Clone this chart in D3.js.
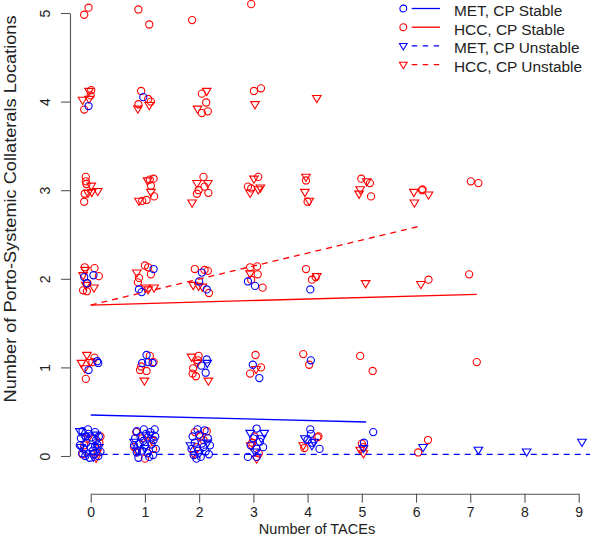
<!DOCTYPE html>
<html><head><meta charset="utf-8">
<script src="https://cdn.jsdelivr.net/npm/d3@7"></script>
<style>body{margin:0;background:#fff}svg{display:block}text{font-family:"Liberation Sans",Arial,sans-serif;fill:#222}</style>
</head><body>
<svg id="c" width="590" height="543"></svg>
<script>
// ---- data (jittered values) ----
const xTicks = [0,1,2,3,4,5,6,7,8,9];
const yTicks = [0,1,2,3,4,5];
const xTitle = "Number of TACEs";
const yTitle = "Number of Porto-Systemic Collaterals Locations";
const legendLabels = ["MET, CP Stable","HCC, CP Stable","MET, CP Unstable","HCC, CP Unstable"];

const hccStable = [
 [-0.12,4.98],[-0.04,5.06],[0.88,5.04],[1.08,4.87],[1.87,4.92],[2.96,5.10],
 [0.01,4.13],[0.0,4.07],[-0.12,3.91],[0.93,4.12],[1.06,4.03],[0.88,3.97],[1.11,4.0],[2.05,4.09],[2.13,3.99],[2.05,3.87],[2.16,3.89],[3.01,4.12],[3.14,4.15],
 [-0.09,3.15],[-0.09,3.10],[-0.08,3.07],[-0.11,2.96],[-0.12,2.87],[1.16,3.13],[1.09,3.12],[1.11,3.05],[1.17,2.93],[1.03,2.89],[0.95,2.88],[2.08,3.15],[2.10,3.04],[1.99,3.0],[1.96,2.96],[2.17,2.97],[3.09,3.15],[2.90,3.04],[2.96,3.02],[3.97,3.11],[4.0,2.87],[4.99,3.13],[5.15,3.08],[5.17,2.93],[6.11,3.0],[6.12,3.01],[7.01,3.10],[7.15,3.08],
 [-0.11,2.13],[0.07,2.12],[0.15,2.03],[-0.06,1.95],[-0.14,1.87],[-0.07,1.86],[1.0,2.15],[1.06,2.13],[1.11,2.05],[0.89,2.01],[0.87,1.96],[1.92,2.11],[2.16,2.09],[2.18,1.84],[2.10,2.10],[2.94,2.13],[3.07,2.14],[3.08,2.05],[2.96,1.99],[3.17,1.90],[3.97,2.11],[4.15,2.02],[4.08,1.99],[6.23,1.99],[6.98,2.05],
 [0.07,1.11],[0.03,1.06],[-0.09,0.87],[1.09,1.13],[1.16,1.06],[0.93,1.01],[0.91,0.97],[1.03,0.96],[1.99,1.13],[1.89,0.99],[1.88,0.93],[1.94,0.90],[1.98,1.08],[3.04,1.14],[3.14,1.0],[2.94,0.93],[3.92,1.15],[4.03,1.03],[4.97,1.13],[5.20,0.96],[7.12,1.06],
 [-0.15,0.02],[0.16,0.15],[0.18,0.22],[-0.12,0.12],[0.84,0.27],[0.80,0.10],[1.0,-0.03],[1.15,0.08],[0.95,0.20],[1.92,0.27],[2.14,0.28],[2.08,0.18],[1.96,0.10],[2.02,0.22],[3.02,0.22],[2.98,0.15],[3.10,0.03],[4.20,0.22],[4.18,0.21],[3.94,0.09],[5.0,0.14],[5.03,0.10],[6.22,0.18],[6.04,0.04]
];
const hccUnstable = [
 [-0.03,4.12],[-0.15,4.02],[-0.03,4.03],[0.87,3.92],[1.08,3.96],[2.14,4.12],[1.97,3.92],[3.03,3.97],[4.17,4.04],
 [0.01,3.05],[0.13,2.99],[0.02,2.98],[-0.05,2.97],[1.05,3.11],[1.11,2.98],[0.89,2.88],[1.96,3.08],[2.16,3.08],[1.87,2.86],[3.01,3.13],[3.13,3.03],[2.94,2.97],[3.09,3.01],[3.97,3.15],[3.95,2.98],[4.03,2.88],[5.09,3.10],[4.97,3.01],[4.95,2.96],[5.96,2.98],[6.23,2.95],[5.97,2.86],
 [-0.1,2.10],[-0.14,2.04],[-0.09,1.93],[0.06,1.90],[0.85,2.07],[1.01,1.90],[1.17,1.90],[1.06,1.88],[1.89,1.93],[1.99,1.92],[2.06,1.91],[2.94,2.06],[4.17,2.03],[5.07,1.95],[6.09,1.94],
 [-0.07,1.14],[-0.17,1.05],[-0.01,1.06],[-0.11,0.99],[0.99,0.85],[1.86,1.12],[1.96,1.05],[2.17,0.85],[3.05,0.98],
 [0.12,0.04],[-0.05,0.20],[0.1,-0.02],[0.85,0.05],[1.12,0.18],[1.9,0.02],[3.06,-0.03],[2.95,0.12],[3.92,0.12],[5.03,0.03],[4.97,0.07]
];
const metStable = [
 [-0.04,3.95],[0.97,4.05],
 [-0.12,2.02],[0.05,2.04],[-0.07,1.95],[1.16,2.11],[0.89,1.88],[0.94,1.85],[2.05,2.07],[2.0,1.97],[2.14,1.88],[2.90,1.97],[3.03,1.92],[4.05,1.88],
 [0.14,1.05],[0.12,1.07],[-0.04,0.97],[1.03,1.14],[0.95,1.05],[1.14,1.05],[1.06,1.06],[2.14,1.09],[2.04,1.02],[2.12,0.94],[2.99,1.03],[3.11,0.88],[4.06,1.08],
 [-0.15,0.28],[-0.05,0.30],[0.08,0.27],[0.15,0.22],[-0.18,0.20],[0.02,0.21],[-0.08,0.15],[0.12,0.13],[0.18,0.05],[-0.13,0.08],[0.0,0.10],[0.06,0.02],[-0.10,0.0],[-0.02,-0.02],[0.14,0.0],[-0.20,0.12],[0.10,0.18],[-0.04,0.25],[0.04,0.06],[-0.16,0.03],[0.08,0.11],[-0.09,0.22],
 [0.85,0.28],[0.98,0.30],[1.10,0.27],[1.18,0.30],[0.82,0.20],[0.92,0.22],[1.05,0.21],[1.16,0.18],[0.80,0.12],[0.90,0.14],[1.00,0.12],[1.12,0.13],[1.20,0.08],[0.85,0.04],[0.95,0.06],[1.05,0.03],[1.15,0.01],[0.88,-0.02],[1.08,-0.01],[0.97,0.17],[1.02,0.25],[1.19,0.22],
 [1.97,0.30],[2.10,0.29],[1.88,0.22],[2.00,0.24],[2.16,0.20],[1.92,0.15],[2.05,0.14],[2.20,0.12],[1.86,0.08],[1.98,0.06],[2.12,0.05],[1.90,0.01],[2.03,-0.01],[2.18,0.02],[1.95,-0.03],[2.08,0.10],
 [3.06,0.31],[3.00,0.20],[3.12,0.16],[2.95,0.12],[3.06,0.08],[3.18,0.10],[2.90,-0.01],[3.06,-0.01],
 [4.05,0.30],[4.06,0.25],[4.00,0.18],[4.08,0.15],[4.22,0.08],
 [5.21,0.27],[5.04,0.15]
];
const metUnstable = [
 [2.15,1.05],
 [-0.20,0.28],[-0.12,0.22],[0.10,0.24],[-0.08,0.03],[0.05,-0.01],[0.15,0.10],[-0.18,0.10],
 [0.86,0.07],[1.10,0.24],[1.00,0.09],[0.80,0.16],
 [1.84,0.12],[2.15,0.15],[2.0,0.03],
 [2.94,0.26],[3.20,0.26],[3.03,0.05],[3.15,0.20],
 [3.95,0.20],[4.08,0.12],[4.12,0.16],
 [5.03,0.09],[6.13,0.10],[7.15,0.07],[8.04,0.05],[9.06,0.16]
];
// fitted lines (start/end)
const metStableFit = [[0,0.463],[5.08,0.384]];
const hccStableFit = [[0,1.704],[7.12,1.825]];
const metUnstableFit = [[0,0.019],[9.25,0.019]];
const hccUnstableFit = [[0,1.704],[6.03,2.588]];

// ---- drawing ----
const BLUE = "#0000ff", RED = "#ff0000";
const svg = d3.select("#c");
const x = d3.scaleLinear().domain([0,9]).range([90.7,578.7]);
const y = d3.scaleLinear().domain([0,5]).range([456,13]);

// axes
const gx = svg.append("g").attr("transform","translate(0,493.7)")
  .call(d3.axisBottom(x).tickValues(xTicks).tickFormat(d3.format("d")).tickSize(9).tickSizeOuter(0));
gx.selectAll("text").attr("font-size",14).attr("dy",null).attr("y",23);
const gy = svg.append("g").attr("transform","translate(70,0)")
  .call(d3.axisLeft(y).tickValues(yTicks).tickFormat(d3.format("d")).tickSize(9).tickSizeOuter(0));
gy.selectAll(".tick text").attr("font-size",14).attr("x",null).attr("dy",null)
  .attr("text-anchor","middle").attr("transform","translate(-20,0) rotate(-90)");
svg.selectAll(".domain, .tick line").attr("stroke","#555").attr("stroke-width",1.1);
svg.selectAll(".tick text").attr("fill","#222").attr("font-family","Liberation Sans, Arial, sans-serif");

svg.append("text").attr("x",317).attr("y",534).attr("text-anchor","middle").attr("font-size",14.5).text(xTitle);
svg.append("text").attr("transform","translate(16,209) rotate(-90) scale(1.07,1)").attr("text-anchor","middle").attr("font-size",17).text(yTitle);

// symbols
const circ = (g, data, col) => g.selectAll(null).data(data).join("circle")
  .attr("cx",d=>x(d[0])).attr("cy",d=>y(d[1])).attr("r",3.6)
  .attr("fill","none").attr("stroke",col).attr("stroke-width",1.1);
const triPath = "M-4.3,-2.6L4.3,-2.6L0,4.6Z";
const tri = (g, data, col) => g.selectAll(null).data(data).join("path")
  .attr("d",triPath).attr("transform",d=>`translate(${x(d[0])},${y(d[1])})`)
  .attr("fill","none").attr("stroke",col).attr("stroke-width",1.1);

const pts = svg.append("g");
circ(pts.append("g"), hccStable, RED);
tri(pts.append("g"), hccUnstable, RED);
circ(pts.append("g"), metStable, BLUE);
tri(pts.append("g"), metUnstable, BLUE);

const line = d3.line().x(d=>x(d[0])).y(d=>y(d[1]));
const DASH = "6,5";
svg.append("path").attr("d",line(metStableFit)).attr("stroke",BLUE).attr("stroke-width",1.3).attr("fill","none");
svg.append("path").attr("d",line(hccStableFit)).attr("stroke",RED).attr("stroke-width",1.3).attr("fill","none");
svg.append("path").attr("d",line(metUnstableFit)).attr("stroke",BLUE).attr("stroke-width",1.3).attr("stroke-dasharray",DASH).attr("fill","none");
svg.append("path").attr("d",line(hccUnstableFit)).attr("stroke",RED).attr("stroke-width",1.3).attr("stroke-dasharray",DASH).attr("fill","none");

// legend
const legend = svg.append("g");
const cols = [BLUE, RED, BLUE, RED];
legendLabels.forEach((lab,i)=>{
  const ry = 8.5 + i*18.7;
  const g = legend.append("g").attr("transform",`translate(0,${ry})`);
  if (i<2) g.append("circle").attr("cx",403.3).attr("cy",0).attr("r",3.4).attr("fill","none").attr("stroke",cols[i]).attr("stroke-width",1.1);
  else g.append("path").attr("d",triPath).attr("transform","translate(403.3,0) scale(0.9)").attr("fill","none").attr("stroke",cols[i]).attr("stroke-width",1.2);
  g.append("line").attr("x1",411.7).attr("x2",440).attr("y1",0).attr("y2",0).attr("stroke",cols[i]).attr("stroke-width",1.3)
    .attr("stroke-dasharray", i<2 ? null : "5.5,5.5");
  g.append("text").attr("x",454).attr("y",7.5).attr("font-size",15.4).text(lab);
});
</script>
</body></html>
